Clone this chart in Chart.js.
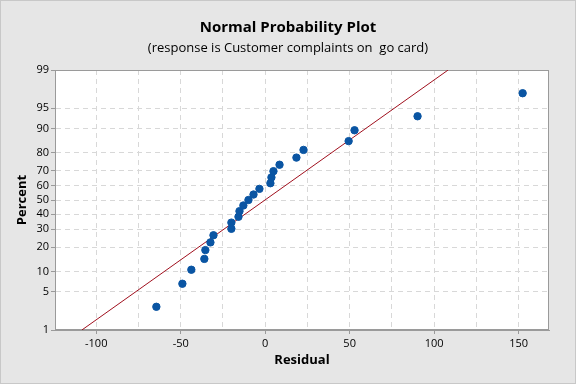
<!DOCTYPE html>
<html>
<head>
<meta charset="utf-8">
<script src="https://cdn.jsdelivr.net/npm/chart.js@4.4.0/dist/chart.umd.min.js"></script>
<style>
  html, body { margin: 0; padding: 0; background: #e6e6e6; }
  canvas { display: block; }
</style>
</head>
<body>
<canvas id="npp" width="576" height="384"></canvas>
<script>
// ─── Data ───────────────────────────────────────────────────────────────────
const residuals = [-64.4, -49.0, -43.7, -36.0, -35.4, -32.4, -30.6, -20.0, -20.0, -15.8,
                   -15.2, -12.9, -9.9, -6.9, -3.4, 3.1, 3.7, 4.9, 8.5, 18.5,
                   22.7, 49.4, 52.9, 90.2, 152.4];
const percents = [2.8, 6.7, 10.6, 14.6, 18.5, 22.4, 26.4, 30.3, 34.3, 38.2,
                  42.1, 46.1, 50.0, 53.9, 57.9, 61.8, 65.7, 69.7, 73.6, 77.6,
                  81.5, 85.4, 89.4, 93.3, 97.2];
const fitResidual = [-108.5, 108.3];
const fitPercent = [1, 99];
const yTickPercents = [1, 5, 10, 20, 30, 40, 50, 60, 70, 80, 90, 95, 99];
const xTickValues = [-100, -75, -50, -25, 0, 25, 50, 75, 100, 125, 150];
const xLabelEvery = 50;

// ─── Normal probability scale: percent -> z (Acklam's inverse normal) ───────
function probit(p) {
  const a = [-3.969683028665376e+01, 2.209460984245205e+02, -2.759285104469687e+02, 1.383577518672690e+02, -3.066479806614716e+01, 2.506628277459239e+00];
  const b = [-5.447609879822406e+01, 1.615858368580409e+02, -1.556989798598866e+02, 6.680131188771972e+01, -1.328068155288572e+01];
  const c = [-7.784894002430293e-03, -3.223964580411365e-01, -2.400758277161838e+00, -2.549732539343734e+00, 4.374664141464968e+00, 2.938163982698783e+00];
  const d = [7.784695709041462e-03, 3.224671290700398e-01, 2.445134137142996e+00, 3.754408661907416e+00];
  const lo = 0.02425, hi = 1 - lo;
  let q, r;
  if (p < lo) {
    q = Math.sqrt(-2 * Math.log(p));
    return (((((c[0]*q+c[1])*q+c[2])*q+c[3])*q+c[4])*q+c[5]) / ((((d[0]*q+d[1])*q+d[2])*q+d[3])*q+1);
  }
  if (p > hi) {
    q = Math.sqrt(-2 * Math.log(1 - p));
    return -(((((c[0]*q+c[1])*q+c[2])*q+c[3])*q+c[4])*q+c[5]) / ((((d[0]*q+d[1])*q+d[2])*q+d[3])*q+1);
  }
  q = p - 0.5; r = q * q;
  return (((((a[0]*r+a[1])*r+a[2])*r+a[3])*r+a[4])*r+a[5])*q / (((((b[0]*r+b[1])*r+b[2])*r+b[3])*r+b[4])*r+1);
}
const z = pct => probit(pct / 100);
const zEdge = z(yTickPercents[yTickPercents.length - 1]);

// ─── Background + plot frame ────────────────────────────────────────────────
const frame = {
  id: 'frame',
  beforeDraw(chart) {
    const { ctx, chartArea: a, width, height } = chart;
    ctx.save();
    ctx.fillStyle = '#e6e6e6';
    ctx.fillRect(0, 0, width, height);
    ctx.strokeStyle = '#c8c8c8';
    ctx.lineWidth = 1;
    ctx.strokeRect(0.5, 0.5, width - 1, height - 1);
    ctx.fillStyle = '#ffffff';
    ctx.fillRect(a.left, a.top, a.right - a.left, a.bottom - a.top);
    ctx.restore();
  },
  beforeDatasetsDraw(chart) {
    const { ctx, chartArea: a } = chart;
    ctx.save();
    ctx.strokeStyle = '#9a9a9a';
    ctx.lineWidth = 1;
    ctx.strokeRect(Math.round(a.left) + 0.5, Math.round(a.top) + 0.5,
                   Math.round(a.right - a.left) - 1, Math.round(a.bottom - a.top) - 1);
    ctx.restore();
  }
};

const FONT = "'Open Sans', 'Noto Sans', sans-serif";
const noPad = s => { s.paddingTop = 0; s.paddingBottom = 0; s.paddingLeft = 0; s.paddingRight = 0; };

new Chart(document.getElementById('npp').getContext('2d'), {
  type: 'scatter',
  data: {
    datasets: [
      {
        label: 'Residuals',
        data: residuals.map((r, i) => ({ x: r, y: z(percents[i]) })),
        backgroundColor: '#0a55a3',
        borderColor: '#0a55a3',
        pointRadius: 3.7,
        order: 0
      },
      {
        label: 'Fit',
        type: 'line',
        data: fitResidual.map((r, i) => ({ x: r, y: z(fitPercent[i]) })),
        borderColor: '#a0101e',
        borderWidth: 1,
        pointRadius: 0,
        fill: false,
        order: 1
      }
    ]
  },
  options: {
    responsive: false,
    animation: false,
    events: [],
    // symmetric side padding keeps the titles centred on the canvas
    layout: { padding: { left: 13.5, right: 13.5, top: 0, bottom: 0 } },
    plugins: {
      legend: { display: false },
      tooltip: { enabled: false },
      title: {
        display: true,
        text: 'Normal Probability Plot',
        color: '#000',
        font: { family: FONT, size: 15, weight: 'bold' },
        padding: { top: 19, bottom: 0 }
      },
      subtitle: {
        display: true,
        text: '(response is Customer complaints on  go card)',
        color: '#000',
        font: { family: FONT, size: 13 },
        padding: { top: 3, bottom: 14.4 }
      }
    },
    scales: {
      x: {
        type: 'linear',
        min: -124.4,
        max: 168,
        afterBuildTicks: s => { s.ticks = xTickValues.map(v => ({ value: v })); },
        afterFit: s => { s.height = 54; noPad(s); },
        ticks: {
          color: '#000',
          font: { family: FONT, size: 11 },
          padding: 3,
          maxRotation: 0,
          callback: v => (v % xLabelEvery === 0 ? String(v) : '')
        },
        grid: {
          color: '#d8d8d8',
          tickLength: 4,
          tickColor: c => (c.tick && c.tick.value % xLabelEvery === 0 ? '#9a9a9a' : 'rgba(0,0,0,0)')
        },
        border: { color: '#9a9a9a', dash: [5, 4] },
        title: {
          display: true,
          text: 'Residual',
          color: '#000',
          font: { family: FONT, size: 13, weight: 'bold' },
          padding: { bottom: 16 }
        }
      },
      y: {
        type: 'linear',
        min: -zEdge,
        max: zEdge,
        afterBuildTicks: s => { s.ticks = yTickPercents.map(p => ({ value: z(p) })); },
        afterFit: s => { s.width = 41.5; noPad(s); },
        ticks: {
          color: '#000',
          font: { family: FONT, size: 11 },
          padding: 2,
          callback: (v, i) => String(yTickPercents[i])
        },
        grid: { color: '#d8d8d8', tickLength: 4, tickColor: '#9a9a9a' },
        border: { color: '#9a9a9a', dash: [5, 4] },
        title: {
          display: true,
          text: 'Percent',
          color: '#000',
          font: { family: FONT, size: 13, weight: 'bold' },
          padding: { top: 0.5 }
        }
      },
      // empty spacer on the right so the plot ends where the reference's does
      yRight: {
        type: 'linear',
        position: 'right',
        display: true,
        afterFit: s => { s.width = 13.5; noPad(s); },
        ticks: { display: false },
        grid: { display: false },
        border: { display: false }
      }
    }
  },
  plugins: [frame]
});
</script>
</body>
</html>
